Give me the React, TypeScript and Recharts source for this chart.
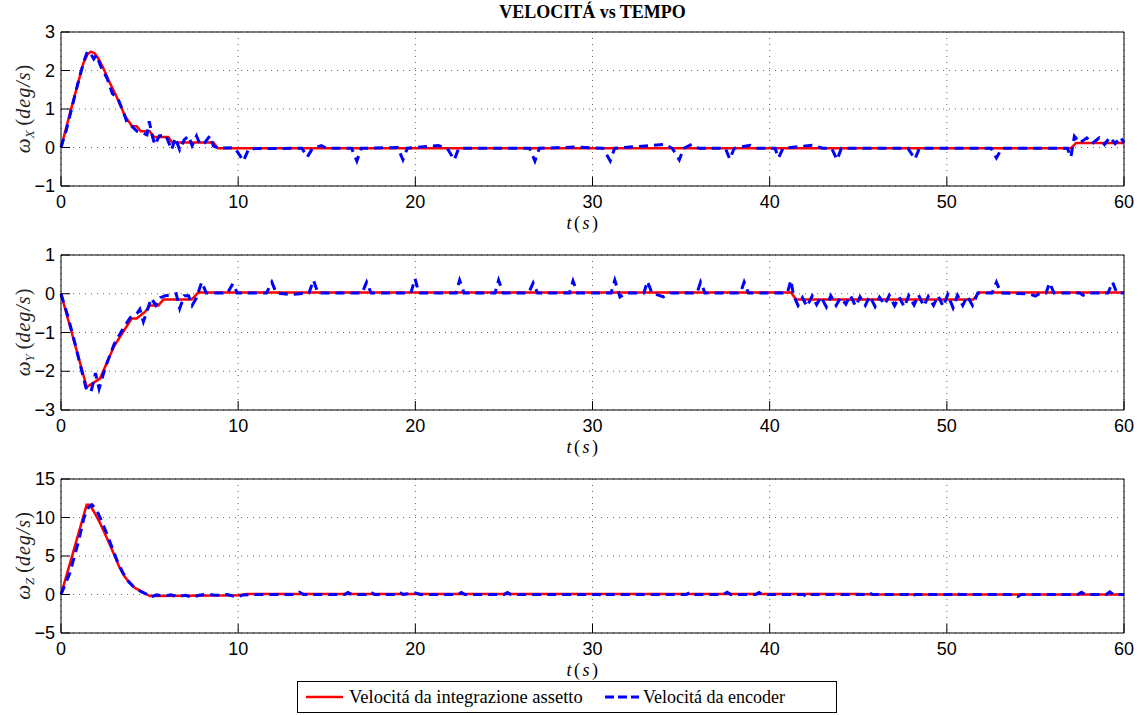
import React from "react";
import { LineChart, Line, XAxis, YAxis, CartesianGrid } from "recharts";

// time (s), angular velocity (deg/s) pairs
const intX: [number, number][] = [
  [0, 0], [0.6, 1.05], [1.26, 2.19], [1.5, 2.42], [1.69, 2.49], [1.9, 2.45], [2.1, 2.32],
  [2.4, 2.05], [2.67, 1.76], [3.14, 1.32], [3.61, 0.82], [4.0, 0.56], [4.27, 0.55],
  [4.5, 0.42], [5.0, 0.42], [5.26, 0.27], [6.05, 0.27], [6.28, 0.13], [8.6, 0.13],
  [8.85, -0.02], [57.0, -0.02], [57.3, 0.12], [60, 0.12],
];
const encX: [number, number][] = [
  [0, 0], [0.3, 0.45], [0.7, 1.2], [1.0, 1.75], [1.3, 2.25], [1.5, 2.5], [1.7, 2.42], [1.85, 2.3],
  [2.0, 2.4], [2.25, 2.1], [2.6, 1.8], [2.9, 1.4], [3.2, 1.28], [3.5, 0.95], [3.75, 0.62],
  [4.0, 0.55], [4.3, 0.42], [4.6, 0.38], [4.85, 0.33], [4.98, 0.68], [5.15, 0.3], [5.3, 0.07],
  [5.55, 0.3], [5.9, 0.33], [6.25, -0.06], [6.45, 0.25], [6.7, -0.06], [6.95, 0.2], [7.2, 0.3],
  [7.4, 0.05], [7.65, 0.3], [7.85, 0.08], [8.1, 0.12], [8.4, 0.3], [8.6, 0.04], [8.9, -0.02],
  [9.8, 0.0], [10.3, -0.35], [10.6, -0.03],
  [13.6, -0.02], [13.9, -0.25], [14.2, -0.02], [14.7, 0.05], [15.0, -0.02],
  [16.4, -0.02], [16.7, -0.35], [16.95, -0.02],
  [19.0, 0], [19.3, -0.32], [19.55, -0.02],
  [21.3, 0.05], [21.8, -0.02], [22.2, -0.32], [22.45, -0.02],
  [26.45, -0.02], [26.75, -0.35], [27.0, -0.02],
  [29.0, 0.01], [30.6, -0.02], [31.0, -0.35], [31.25, -0.02],
  [34.1, 0.08], [34.5, -0.02], [34.9, -0.32], [35.15, -0.02], [35.6, 0.08], [36.0, -0.02],
  [37.5, -0.02], [37.75, -0.3], [38.0, -0.02], [38.9, 0.06], [39.3, -0.02],
  [40.3, -0.02], [40.5, -0.27], [40.75, -0.02],
  [42.4, 0.06], [43.0, -0.02], [43.5, -0.02], [43.8, -0.32], [44.05, -0.02],
  [47.8, -0.02], [48.2, -0.3], [48.45, -0.02],
  [52.5, -0.02], [52.8, -0.27], [53.1, -0.02],
  [56.8, -0.02], [57.0, -0.25], [57.2, 0.29], [57.5, 0.12], [57.9, 0.25], [58.2, 0.1],
  [58.6, 0.25], [58.9, 0.08], [59.2, 0.27], [59.5, 0.1], [59.8, 0.27], [60, 0.12],
];

const intY: [number, number][] = [
  [0, 0], [1.45, -2.41], [2.2, -2.19], [3.0, -1.35], [3.99, -0.64], [4.27, -0.64],
  [4.74, -0.47], [5.02, -0.3], [5.5, -0.3], [5.78, -0.15], [7.37, -0.15], [7.75, 0.03],
  [41.2, 0.03], [41.5, -0.15], [51.5, -0.15], [51.8, 0.03], [60, 0.03],
];
const encY: [number, number][] = [
  [0, 0], [0.4, -0.6], [0.8, -1.3], [1.2, -2.05], [1.45, -2.5], [1.7, -2.52], [1.95, -2.05],
  [2.15, -2.45], [2.5, -1.9], [3.0, -1.3], [3.5, -0.9], [3.9, -0.62], [4.3, -0.5], [4.45, -0.4],
  [4.65, -0.72], [4.85, -0.45], [5.1, -0.12], [5.35, -0.3], [5.6, -0.1], [5.9, -0.05],
  [6.3, -0.03], [6.5, 0.0], [6.7, -0.38], [6.95, -0.05], [7.2, -0.05], [7.4, -0.3],
  [7.65, -0.1], [7.94, 0.3], [8.2, 0.02],
  [9.4, 0.02], [9.7, 0.26], [9.95, 0.02],
  [11.6, 0.02], [11.9, 0.3], [12.15, 0.02], [13.0, -0.02],
  [14.0, 0.02], [14.25, 0.35], [14.5, 0.02],
  [17.0, 0.02], [17.25, 0.3], [17.5, 0.02],
  [19.75, 0.02], [19.98, 0.39], [20.2, 0.02],
  [22.3, 0.02], [22.5, 0.35], [22.75, 0.02],
  [24.5, 0.02], [24.7, 0.35], [24.95, 0.02],
  [26.4, 0.02], [26.65, 0.28], [26.9, 0.02],
  [28.7, 0.02], [28.9, 0.33], [29.15, 0.02],
  [31.05, 0.02], [31.26, 0.35], [31.55, -0.08], [31.9, 0.02],
  [32.9, 0.02], [33.1, 0.32], [33.35, 0.02], [34.0, -0.08], [34.4, 0.02],
  [35.9, 0.02], [36.1, 0.3], [36.35, 0.02],
  [38.35, 0.02], [38.56, 0.3], [38.8, 0.02],
  [41.0, 0.02], [41.2, 0.35], [41.35, -0.05],
  [41.6, -0.3], [41.85, -0.1], [42.1, -0.33], [42.4, -0.06], [42.65, -0.28], [42.9, -0.08],
  [43.2, -0.34], [43.45, -0.05], [43.75, -0.3], [44.0, -0.1], [44.3, -0.27], [44.55, -0.04],
  [44.85, -0.32], [45.1, -0.08], [45.4, -0.3], [45.65, -0.06], [45.95, -0.33], [46.2, -0.09],
  [46.5, -0.28], [46.75, -0.04], [47.05, -0.31], [47.3, -0.08], [47.6, -0.34], [47.85, -0.05],
  [48.15, -0.29], [48.4, -0.03], [48.7, -0.32], [48.95, -0.07], [49.25, -0.3], [49.5, -0.05],
  [49.8, -0.33], [50.05, -0.02], [50.35, -0.36], [50.6, -0.04], [50.9, -0.3], [51.15, -0.06],
  [51.45, -0.3], [51.75, 0.02],
  [52.55, 0.02], [52.8, 0.3], [53.05, 0.02], [54.6, 0.0], [55.0, -0.06], [55.3, 0.02],
  [55.6, 0.02], [55.8, 0.28], [56.05, 0.02], [57.5, 0.02], [57.7, -0.04], [58.0, 0.02],
  [59.1, 0.02], [59.35, 0.3], [59.6, 0.02], [60, 0.02],
];

const intZ: [number, number][] = [
  [0, 0], [0.6, 4.8], [1.17, 9.4], [1.45, 11.65], [1.63, 11.65], [1.92, 10.5], [2.2, 9.3],
  [2.48, 7.9], [2.77, 6.4], [3.05, 4.9], [3.3, 3.5], [3.6, 2.3], [3.9, 1.45], [4.17, 0.85],
  [4.65, 0.26], [5.02, -0.2], [7, -0.15], [10, -0.1], [10.5, 0.05], [45, 0.05], [46, 0], [60, 0],
];
const encZ: [number, number][] = [
  [0, 0], [0.5, 2.8], [1.0, 7.0], [1.3, 10.0], [1.55, 11.3], [1.75, 11.65], [2.0, 11.0],
  [2.3, 9.5], [2.6, 7.8], [2.9, 6.0], [3.2, 4.2], [3.5, 2.8], [3.8, 1.7], [4.1, 1.0],
  [4.5, 0.4], [4.85, 0.0], [5.05, -0.35], [5.4, -0.05], [5.8, -0.2], [6.2, -0.05], [6.6, -0.3],
  [7.0, -0.1], [7.4, -0.35], [7.8, -0.1], [8.2, 0.05], [8.6, -0.05], [9.0, -0.1], [9.4, 0.0],
  [9.9, -0.35], [10.3, -0.05], [11.0, 0.0], [13.2, 0.0], [13.45, 0.3], [13.7, 0.0],
  [16.0, 0.0], [16.2, 0.25], [16.4, 0.0], [17.2, 0.0], [17.45, 0.35], [17.7, 0.0],
  [18.9, 0.0], [19.1, 0.3], [19.3, 0.0], [20.0, 0.2], [20.3, 0.0], [22.4, 0.0], [22.6, 0.25],
  [22.8, 0.0], [25.0, 0.0], [25.2, 0.25], [25.4, 0.0], [30.4, 0.0], [30.6, -0.3], [30.8, 0.0],
  [35.3, 0.0], [35.5, 0.3], [35.7, 0.0], [37.4, 0.0], [37.6, 0.3], [37.8, 0.0], [39.2, 0.0],
  [39.4, 0.25], [39.6, 0.0], [41.9, 0.0], [42.1, -0.3], [42.3, 0.0], [45.4, 0.0], [45.6, 0.25],
  [45.8, 0.0], [47.8, 0.0], [48.0, -0.3], [48.2, 0.0], [50.3, 0.0], [50.5, 0.2], [50.7, 0.0],
  [53.8, 0.0], [54.0, -0.25], [54.2, 0.0], [57.4, 0.0], [57.6, 0.3], [57.8, 0.0], [59.0, 0.0],
  [59.2, 0.35], [59.4, 0.0], [60, 0.0],
];

const xTicks = [0, 10, 20, 30, 40, 50, 60];
const yTicksX = [-1, 0, 1, 2, 3];
const yTicksY = [-3, -2, -1, 0, 1];
const yTicksZ = [-5, 0, 5, 10, 15];

const TITLE = "VELOCITÁ vs TEMPO";
const LEGEND_INT = "Velocitá da integrazione assetto";
const LEGEND_ENC = "Velocitá da encoder";

const SANS = "'Liberation Sans', Arial, Helvetica, sans-serif";
const SERIF = "'Liberation Serif', 'Times New Roman', serif";
const RED = "#ff0000";
const BLUE = "#0000ff";

const rows = (pairs: [number, number][]) => pairs.map(([t, v]) => ({ t, v }));
const fmt = (v: number) => String(v).replace("-", "\u2212");

const XTick = (props: any) => {
  const { x, y, payload } = props;
  return (
    <g>
      <line x1={x} y1={y} x2={x} y2={y - 9} stroke="#000" />
      <text x={x} y={y + 22} textAnchor="middle" fontFamily={SANS} fontSize={18} fill="#000">
        {fmt(payload.value)}
      </text>
    </g>
  );
};

const YTick = (props: any) => {
  const { x, y, payload } = props;
  return (
    <g>
      <line x1={x} y1={y} x2={x + 9} y2={y} stroke="#000" />
      <text x={x - 6} y={y + 6} textAnchor="end" fontFamily={SANS} fontSize={18} fill="#000">
        {fmt(payload.value)}
      </text>
    </g>
  );
};

const XLabel = (props: any) => {
  const { viewBox } = props;
  const cx = viewBox.x + viewBox.width / 2 - 9;
  const y = viewBox.y + 43;
  return (
    <text x={cx} y={y} textAnchor="middle" fontFamily={SERIF} fontSize={18} letterSpacing={2.5} fill="#000">
      <tspan fontStyle="italic">t</tspan>(<tspan fontStyle="italic">s</tspan>)
    </text>
  );
};

const makeYLabel = (sub: string) => (props: any) => {
  const { viewBox } = props;
  const cx = 30;
  const cy = viewBox.y + viewBox.height / 2;
  return (
    <text
      x={cx}
      y={cy}
      transform={`rotate(-90 ${cx} ${cy})`}
      textAnchor="middle"
      fontFamily={SERIF}
      fontSize={20}
      fill="#222"
    >
      <tspan fontStyle="italic" fontSize={21}>ω</tspan>
      <tspan fontStyle="italic" fontSize={13} dy={4}>{sub}</tspan>
      <tspan dy={-4}>{"  ("}</tspan>
      <tspan fontStyle="italic" letterSpacing={1}>deg/s</tspan>
      <tspan>)</tspan>
    </text>
  );
};

type PanelProps = {
  top: number;
  bottom: number;
  integ: [number, number][];
  enc: [number, number][];
  domain: [number, number];
  ticks: number[];
  sub: string;
};

function Panel({ top, bottom, integ, enc, domain, ticks, sub }: PanelProps) {
  return (
    <div style={{ position: "absolute", left: 0, top }}>
      <LineChart width={1141} height={240} margin={{ top: 32, right: 17, left: 0, bottom }}>
        <CartesianGrid stroke="#666" strokeDasharray="1 5" />
        <XAxis
          dataKey="t"
          type="number"
          domain={[0, 60]}
          ticks={xTicks}
          interval={0}
          height={30}
          tickSize={0}
          tickMargin={0}
          tickLine={false}
          axisLine={{ stroke: "#000" }}
          tick={<XTick />}
          label={{ content: <XLabel /> }}
        />
        <XAxis
          xAxisId="top"
          orientation="top"
          type="number"
          domain={[0, 60]}
          ticks={xTicks}
          interval={0}
          mirror
          tick={false}
          tickSize={9}
          tickLine={{ stroke: "#000" }}
          axisLine={{ stroke: "#000" }}
        />
        <YAxis
          type="number"
          domain={domain}
          ticks={ticks}
          interval={0}
          width={61}
          tickSize={0}
          tickMargin={0}
          tickLine={false}
          axisLine={{ stroke: "#000" }}
          tick={<YTick />}
          label={{ content: makeYLabel(sub) }}
        />
        <YAxis
          yAxisId="right"
          orientation="right"
          type="number"
          domain={domain}
          ticks={ticks}
          interval={0}
          mirror
          tick={false}
          tickSize={9}
          tickLine={{ stroke: "#000" }}
          axisLine={{ stroke: "#000" }}
        />
        <Line
          data={rows(integ)}
          dataKey="v"
          type="linear"
          stroke={RED}
          strokeWidth={2.5}
          dot={false}
          isAnimationActive={false}
        />
        <Line
          data={rows(enc)}
          dataKey="v"
          type="linear"
          stroke={BLUE}
          strokeWidth={3}
          strokeDasharray="9 6"
          dot={false}
          isAnimationActive={false}
        />
      </LineChart>
    </div>
  );
}

export default function App() {
  return (
    <div
      style={{
        position: "absolute",
        left: 0,
        top: 0,
        width: 1141,
        height: 715,
        background: "#fff",
        overflow: "hidden",
      }}
    >
      <div
        style={{
          position: "absolute",
          left: 61,
          top: 2,
          width: 1063,
          textAlign: "center",
          fontFamily: SERIF,
          fontWeight: "bold",
          fontSize: 18,
        }}
      >
        {TITLE}
      </div>
      <Panel top={0} bottom={24} integ={intX} enc={encX} domain={[-1, 3]} ticks={yTicksX} sub="X" />
      <Panel top={223} bottom={23} integ={intY} enc={encY} domain={[-3, 1]} ticks={yTicksY} sub="Y" />
      <Panel top={447} bottom={24} integ={intZ} enc={encZ} domain={[-5, 15]} ticks={yTicksZ} sub="Z" />
      <div
        style={{
          position: "absolute",
          left: 297,
          top: 681,
          width: 540,
          height: 32,
          boxSizing: "border-box",
          border: "1px solid #000",
          background: "#fff",
        }}
      >
        <svg width={540} height={32} style={{ position: "absolute", left: 0, top: 0 }}>
          <line x1={8} y1={15} x2={45} y2={15} stroke={RED} strokeWidth={2.5} />
          <line x1={307} y1={15} x2={341} y2={15} stroke={BLUE} strokeWidth={3} strokeDasharray="9 4" />
          <text x={51} y={21} fontFamily={SERIF} fontSize={18.5} fill="#000">{LEGEND_INT}</text>
          <text x={345} y={21} fontFamily={SERIF} fontSize={18} fill="#000">{LEGEND_ENC}</text>
        </svg>
      </div>
    </div>
  );
}
